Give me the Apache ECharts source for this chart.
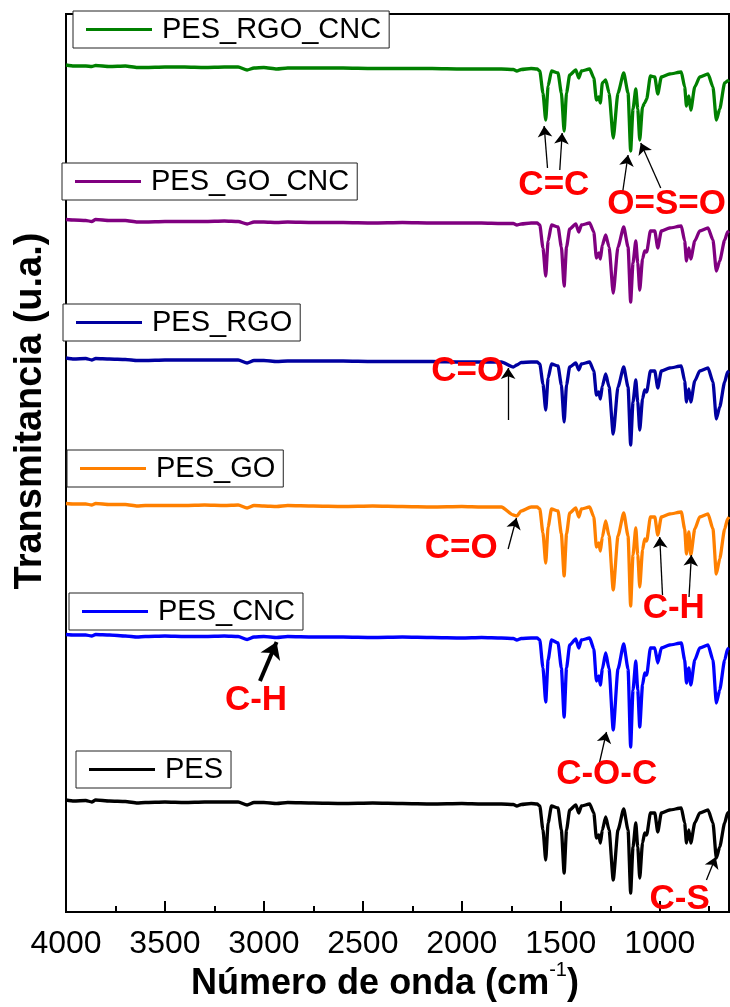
<!DOCTYPE html>
<html><head><meta charset="utf-8">
<script src="https://cdn.jsdelivr.net/npm/echarts@6/dist/echarts.min.js"></script>
<style>html,body{margin:0;padding:0;background:#fff}#c{width:730px;height:1007px}</style>
</head><body><div id="c"></div>
<script>
// ---- data ----
const wavenumbers = [4000,3960,3900,3870,3850,3780,3700,3640,3600,3500,3400,3300,3200,3130,3085,3050,3000,2935,2880,2750,2600,2450,2300,2150,2000,1900,1800,1740,1722,1700,1650,1620,1606,1590,1576,1564,1547,1514,1497,1483,1471,1455,1424,1409,1396,1354,1333,1320,1308,1300,1290,1273,1256,1235,1211,1182,1160,1147,1135,1121,1111,1101,1087,1076,1066,1047,1025,1010,992,950,891,874,865,853,843,823,798,756,731,714,697,672,657,650];
const seriesNames = ['PES_RGO_CNC','PES_GO_CNC','PES_RGO','PES_GO','PES_CNC','PES'];
// relative transmittance (u.a.), baseline ~100
const tPES_RGO_CNC = [104,103,103,102.5,103.5,102.5,103,101.5,101.5,102,102,101.5,102,102,99,101,101.5,100,101,101,101,100.5,100.5,100.5,100,100,100,99.5,98,99.5,100.5,100,98,
 76,49,83,98,96,76,38,76,94,99,91,98,100,91,69,72,66,86,89,76,31,76,96,76,18,60,80,60,29,62,66,70,93,92,75,92,95,97,82,63,73,59,82,92,95,82,49,60,86,88,89];
const tPES_GO_CNC = [103.5,103,102.5,101.5,103.5,102.5,102.5,101,101,101.5,101.5,101.5,102,101.5,99,101,101,100.5,101,100.5,100.5,100,100.5,100,100,100,99.5,99.5,98,99,100,100,98,
 75,47,82,98,96,76,37,76,94,99,91,98,100,91,65,70,64,78,88,76,30,76,96,76,21,60,82,60,33,64,72,71,92,92,75,92,95,97,82,62,75,64,82,92,95,83,52,62,83,91,92];
const tPES_RGO = [104,103,103.5,102,103.5,103,102.5,101.5,101.5,102,102,102,102,102,99,101.5,101.5,100.5,101,101,101,100.5,100.5,100.5,100,100,100,95,97,99.5,100,100,98,
 78,52,84,98,96,77,40,77,95,99,92,98,100,91,67,70,63,76,88,75,28,75,95,75,17,60,82,60,32,63,72,70,91,91,74,91,94,96,81,60,73,60,81,91,94,80,43,55,80,90,91];
const tPES_GO = [103.5,103,103,102,103.5,102.5,102.5,101,101.5,101.5,101.5,102,101.5,102,99,101.5,101,100.5,101.5,101,100.5,101,100.5,100,100.5,100,100,92,91,96,100,100,98,
 74,44,80,98,96,73,31,73,94,99,90,98,100,90,60,64,56,70,86,71,17,71,94,71,1,52,79,52,20,57,68,66,90,90,72,90,93,95,78,53,75,52,78,90,93,78,33,48,78,88,90];
const tPES_CNC = [103.5,103,103,102,103.5,103,102,101,101.5,102,101.5,101.5,102,101.5,98.5,101,101.5,100.5,101.5,101,101,100.5,101,100.5,100,100.5,100,99.5,98,99.5,100,100,98,
 70,36,78,98,95,70,21,70,93,99,90,98,100,89,57,62,53,69,85,69,8,69,94,69,-9,48,77,48,11,53,65,63,90,90,75,90,93,95,78,55,70,53,78,90,93,78,35,48,78,89,90];
const tPES = [104,103,103.5,102,104,103,102.5,101,101.5,102,101.5,102,102,102,99,101.5,101.5,100.5,101.5,101,100.5,101,100.5,100,100.5,100,100,99.5,98,99.5,100.5,100,98,
 74,44,81,98,96,74,31,74,94,99,91,98,100,91,66,69,61,74,87,74,24,74,95,74,11,57,81,57,26,61,71,69,91,91,72,91,94,96,81,61,74,61,81,91,94,81,46,57,81,91,92];
const seriesValues = [tPES_RGO_CNC,tPES_GO_CNC,tPES_RGO,tPES_GO,tPES_CNC,tPES];
const offsets = [743,589,450,305,174,8];   // vertical stacking offsets (u.a.)
const majorTickValues = [4000,3500,3000,2500,2000,1500,1000];
const minorTickValues = [3750,3250,2750,2250,1750,1250,750];

// ---- annotations ----
const annotations = [
  {text:'C=C', w:1535, y:727},
  {text:'O=S=O', w:965, y:708},
  {text:'C=O', w:1970, y:541},
  {text:'C=O', w:2003, y:364},
  {text:'C-H', w:929, y:304},
  {text:'C-H', w:3040, y:212},
  {text:'C-O-C', w:1268, y:138},
  {text:'C-S', w:899, y:13}
];
const arrows = [
  [1567,744,1584,786,1.3],[1505,742,1493,779,1.3],
  [1188,719,1160,757,1.3],[995,724,1096,769,1.3],
  [1766,492,1766,544,1.3],[1766,363,1724,394,1.3],
  [986,317,1000,375,1.3],[852,315,840,357,1.3],
  [3020,231,2936,270,4],[1306,148,1269,180,1.3],[764,32,717,55,1.3]
];

const colors = ['#008000','#800080','#0000A0','#FF8000','#0000FF','#000000'];
const legendPos = [[73,11],[62,163],[63,304],[67,450],[69,593],[76,751]];
const FONT = '"Liberation Sans", Arial, Helvetica, sans-serif';

const chart = echarts.init(document.getElementById('c'), null, {renderer:'canvas'});

const series = seriesNames.map((name,i)=>({
  type:'line', name, showSymbol:false, symbol:'none', animation:false,
  smooth:0.2, smoothMonotone:'x',
  data: wavenumbers.map((w,j)=>[w, offsets[i]+seriesValues[i][j]]),
  lineStyle:{color:colors[i], width:3.3, join:'round'}, itemStyle:{color:colors[i]},
  emphasis:{disabled:true}
}));
series[5].markLine = {
  silent:true, animation:false, symbol:['none','arrow'], symbolSize:11,
  label:{show:false}, emphasis:{disabled:true},
  lineStyle:{color:'#000', type:'solid', width:1.3},
  data: arrows.map(a=>[
    {coord:[a[0],a[1]], lineStyle:{color:'#000',type:'solid',width:a[4]}, symbolSize: a[4]>2?16:11},
    {coord:[a[2],a[3]], symbolSize: a[4]>2?16:11}
  ])
};

const legends = seriesNames.map((name,i)=>({
  data:[name], left:legendPos[i][0], top:legendPos[i][1], selectedMode:false,
  icon:'rect', itemWidth:66, itemHeight:3, padding:[4,8,4,13],
  borderColor:'#222', borderWidth:1, backgroundColor:'#fff',
  textStyle:{fontSize:29, color:'#000', fontFamily:FONT, padding:[0,0,0,5]}
}));

chart.setOption({
  animation:false,
  grid:{left:66, right:1, top:14, bottom:95, show:true, borderColor:'#000', borderWidth:2},
  legend: legends,
  xAxis:[
    {type:'value', min:650, max:4000, inverse:true,
     axisLine:{show:true, onZero:false, lineStyle:{color:'#000', width:2}},
     axisTick:{show:true, inside:true, length:11, customValues:majorTickValues, lineStyle:{color:'#000', width:2}},
     axisLabel:{show:true, customValues:majorTickValues, fontSize:32, color:'#000', margin:16, fontFamily:FONT,
       formatter:(v)=>String(v)},
     splitLine:{show:false}},
    {type:'value', min:650, max:4000, inverse:true, position:'bottom',
     axisLine:{show:false, onZero:false},
     axisTick:{show:true, inside:true, length:6, customValues:minorTickValues, lineStyle:{color:'#000', width:2}},
     axisLabel:{show:false}, splitLine:{show:false}}
  ],
  yAxis:{type:'value', min:0, max:898,
     axisLine:{show:true, lineStyle:{color:'#000', width:2}},
     axisTick:{show:false}, axisLabel:{show:false}, splitLine:{show:false}},
  series
});

const g = annotations.map(a=>{
  const p = chart.convertToPixel({gridIndex:0}, [a.w, a.y]);
  return {type:'text', x:p[0], y:p[1], z:100,
    style:{text:a.text, fill:'#FF0000', font:'bold 35px '+FONT, align:'center', verticalAlign:'middle', textAlign:'center', textVerticalAlign:'middle'}};
});
g.push({type:'text', x:385, y:984, z:100,
  style:{text:'{b|Número de onda (cm}{s|-1}{b|)}', fill:'#000', align:'center', verticalAlign:'middle', textAlign:'center', textVerticalAlign:'middle',
    rich:{b:{fontSize:36, fontWeight:'bold', fontFamily:FONT, lineHeight:48, fill:'#000', color:'#000'},
          s:{fontSize:20, fontFamily:FONT, lineHeight:20, verticalAlign:'top', fill:'#000', color:'#000'}}}});
g.push({type:'text', x:31, y:411, rotation:Math.PI/2, z:100,
  style:{text:'Transmitancia (u.a.)', fill:'#000', font:'bold 38px '+FONT, align:'center', verticalAlign:'middle', textAlign:'center', textVerticalAlign:'middle'}});
chart.setOption({graphic:g});
</script></body></html>
